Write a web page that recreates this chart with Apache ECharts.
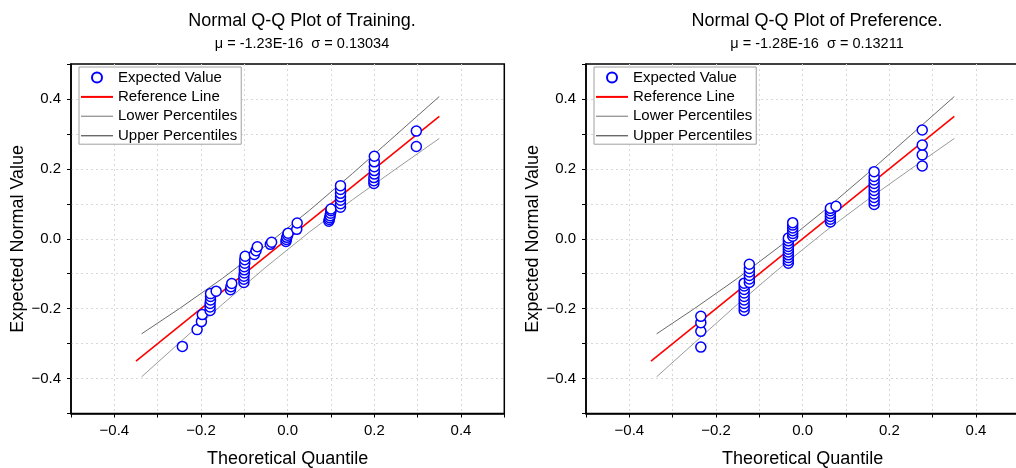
<!DOCTYPE html>
<html>
<head>
<meta charset="utf-8">
<script src="https://cdn.jsdelivr.net/npm/echarts@6/dist/echarts.min.js"></script>
<style>html,body{margin:0;padding:0;background:#fff}#c{width:1016px;height:468px}</style>
</head>
<body>
<div id="c"></div>
<script>
// ---- data ----
const titles = ['Normal Q-Q Plot of Training.', 'Normal Q-Q Plot of Preference.'];
const subtitles = ['\u03bc = -1.23E-16  \u03c3 = 0.13034', '\u03bc = -1.28E-16  \u03c3 = 0.13211'];
const seriesNames = ['Expected Value', 'Reference Line', 'Lower Percentiles', 'Upper Percentiles'];
const xAxisName = 'Theoretical Quantile';
const yAxisName = 'Expected Normal Value';
const tickValuesShown = [-0.4, -0.2, 0.0, 0.2, 0.4];

const trainX = [-0.243, -0.209, -0.199, -0.197,
  -0.179, -0.179, -0.179, -0.178, -0.178, -0.178,
  -0.165,
  -0.132, -0.131, -0.129,
  -0.101, -0.101, -0.101, -0.100, -0.100, -0.100, -0.099, -0.099, -0.098,
  -0.077, -0.073, -0.070,
  -0.040, -0.037,
  -0.004, -0.003, -0.002, 0.000, 0.001,
  0.021, 0.022,
  0.095, 0.096, 0.097, 0.098, 0.099, 0.100, 0.100,
  0.122, 0.122, 0.122, 0.122, 0.122, 0.122, 0.122,
  0.199, 0.199, 0.199, 0.200, 0.200, 0.200, 0.200, 0.200,
  0.297, 0.297];
const trainY = [-0.308, -0.260, -0.237, -0.217,
  -0.205, -0.195, -0.185, -0.175, -0.165, -0.157,
  -0.150,
  -0.146, -0.137, -0.128,
  -0.125, -0.116, -0.107, -0.098, -0.089, -0.080, -0.070, -0.060, -0.050,
  -0.045, -0.034, -0.023,
  -0.016, -0.010,
  -0.008, -0.002, 0.004, 0.010, 0.016,
  0.027, 0.045,
  0.050, 0.055, 0.060, 0.066, 0.073, 0.080, 0.085,
  0.090, 0.100, 0.110, 0.120, 0.130, 0.141, 0.152,
  0.158, 0.166, 0.175, 0.185, 0.195, 0.206, 0.220, 0.236,
  0.264, 0.308];

const prefX = [-0.235, -0.235, -0.235, -0.235,
  -0.135, -0.135, -0.135, -0.135, -0.135, -0.135, -0.135, -0.135, -0.135,
  -0.123, -0.123, -0.123, -0.123, -0.123, -0.123,
  -0.033, -0.033, -0.033, -0.033, -0.033, -0.033, -0.033, -0.033, -0.033, -0.033,
  -0.023, -0.023, -0.023, -0.023, -0.023, -0.023,
  0.064, 0.064, 0.064, 0.064, 0.064, 0.064,
  0.077,
  0.165, 0.165, 0.165, 0.165, 0.165, 0.165, 0.165, 0.165, 0.165, 0.165,
  0.276, 0.276, 0.276, 0.276];
const prefY = [-0.310, -0.265, -0.240, -0.222,
  -0.205, -0.195, -0.185, -0.175, -0.165, -0.155, -0.145, -0.135, -0.127,
  -0.125, -0.115, -0.105, -0.095, -0.085, -0.073,
  -0.070, -0.062, -0.054, -0.046, -0.038, -0.030, -0.022, -0.014, -0.006, 0.002,
  0.007, 0.015, 0.023, 0.031, 0.039, 0.046,
  0.048, 0.056, 0.064, 0.072, 0.080, 0.087,
  0.093,
  0.098, 0.108, 0.118, 0.128, 0.138, 0.148, 0.158, 0.168, 0.178, 0.192,
  0.208, 0.240, 0.268, 0.311];

const refLineX = [-0.35, 0.35];
const refLineY = [-0.35, 0.35];
const bandX = [-0.337, -0.25, -0.15, -0.05, 0.05, 0.15, 0.25, 0.35];
const upperY = [-0.272, -0.200, -0.113, -0.019, 0.081, 0.187, 0.297, 0.407];
const lowerY = [-0.395, -0.298, -0.187, -0.081, 0.019, 0.112, 0.200, 0.287];
// --------------------------------------

const FONT = "'Liberation Sans', Arial, sans-serif";
const pairs = (xs, ys) => xs.map((x, i) => [x, ys[i]]);
const fmt = v => {
  const k = Math.round(v * 10);
  const shown = tickValuesShown.some(t => Math.round(t * 10) === k);
  if (!shown) return '';
  const s = Math.abs(k / 10).toFixed(1);
  return (k < 0 ? '\u2212' : '') + s;
};
// thin horizontal stroke icons for line entries (bounding box kept to full item box)
const LINE_ICON = 'path://M0,0L0,0M0,10L0,10M0,4.3L32,4.3L32,5.7L0,5.7Z';
const RED_ICON = 'path://M0,0L0,0M0,10L0,10M0,4L32,4L32,6L0,6Z';

const gridLefts = [71, 586];
const titleCenters = [297, 812];
const plots = [[trainX, trainY], [prefX, prefY]];

const option = {
  backgroundColor: '#fff',
  animation: false,
  textStyle: { fontFamily: FONT },
  title: titles.map((t, i) => ({
    text: t, subtext: subtitles[i],
    left: titleCenters[i], top: 7, textAlign: 'center', itemGap: 6,
    textStyle: { fontFamily: FONT, fontSize: 18, fontWeight: 'normal', color: '#000' },
    subtextStyle: { fontFamily: FONT, fontSize: 14.5, color: '#000' }
  })),
  legend: gridLefts.map((gl, i) => ({
    orient: 'vertical',
    left: gl + 8, top: 67,
    data: [
      { name: seriesNames[0], icon: 'circle' },
      { name: seriesNames[1], icon: RED_ICON },
      { name: seriesNames[2], icon: LINE_ICON },
      { name: seriesNames[3], icon: LINE_ICON }
    ],
    itemWidth: 32, itemHeight: 10, itemGap: 4.4,
    padding: [3, 4, 1, 2],
    backgroundColor: '#fff',
    borderColor: '#a0a0a0', borderWidth: 1, borderRadius: 0,
    textStyle: { fontFamily: FONT, fontSize: 15, lineHeight: 14, color: '#000' },
    selectedMode: false
  })),
  grid: gridLefts.map(gl => ({
    left: gl, top: 64, width: 433.3, height: 349.5,
    show: true, borderColor: '#000', borderWidth: 1.5,
    outerBoundsMode: 'none', containLabel: false
  })),
  xAxis: gridLefts.map((gl, i) => ({
    gridIndex: i, type: 'value', min: -0.5, max: 0.5, interval: 0.1,
    name: xAxisName, nameLocation: 'middle', nameGap: 37,
    nameTextStyle: { fontFamily: FONT, fontSize: 18, color: '#000' },
    axisLine: { show: true, onZero: false, lineStyle: { color: '#000', width: 1.5 } },
    axisTick: { show: true, inside: false, length: 4, lineStyle: { color: '#000', width: 1 } },
    axisLabel: { formatter: fmt, margin: 10, fontFamily: FONT, fontSize: 15, color: '#000' },
    splitLine: { show: true, showMinLine: false, showMaxLine: false,
      lineStyle: { color: '#d8d8d8', type: [2, 3], width: 1 } }
  })),
  yAxis: gridLefts.map((gl, i) => ({
    gridIndex: i, type: 'value', min: -0.5, max: 0.5, interval: 0.1,
    name: yAxisName, nameLocation: 'middle', nameGap: 36,
    nameTextStyle: { fontFamily: FONT, fontSize: 18, color: '#000' },
    axisLine: { show: true, onZero: false, lineStyle: { color: '#000', width: 1.5 } },
    axisTick: { show: true, inside: false, length: 4, lineStyle: { color: '#000', width: 1 } },
    axisLabel: { formatter: fmt, margin: 10, fontFamily: FONT, fontSize: 15, color: '#000' },
    splitLine: { show: true, showMinLine: false, showMaxLine: false,
      lineStyle: { color: '#d8d8d8', type: [2, 3], width: 1 } }
  })),
  series: []
};

plots.forEach((p, i) => {
  option.series.push({
    name: seriesNames[2], type: 'line', xAxisIndex: i, yAxisIndex: i,
    data: pairs(bandX, lowerY), symbol: 'none', showSymbol: false, z: 2,
    lineStyle: { color: '#9a9a9a', width: 1 }, itemStyle: { color: '#9a9a9a' }
  });
  option.series.push({
    name: seriesNames[3], type: 'line', xAxisIndex: i, yAxisIndex: i,
    data: pairs(bandX, upperY), symbol: 'none', showSymbol: false, z: 2,
    lineStyle: { color: '#6a6a6a', width: 1 }, itemStyle: { color: '#6a6a6a' }
  });
  option.series.push({
    name: seriesNames[1], type: 'line', xAxisIndex: i, yAxisIndex: i,
    data: pairs(refLineX, refLineY), symbol: 'none', showSymbol: false, z: 3,
    lineStyle: { color: '#ff0000', width: 1.6 }, itemStyle: { color: '#ff0000' }
  });
  option.series.push({
    name: seriesNames[0], type: 'scatter', xAxisIndex: i, yAxisIndex: i,
    data: pairs(p[0], p[1]), symbol: 'circle', symbolSize: 10, z: 4,
    itemStyle: { color: '#fff', borderColor: '#0000ff', borderWidth: 1.5, opacity: 1 }
  });
});

const chart = echarts.init(document.getElementById('c'), null, { renderer: 'canvas' });
chart.setOption(option);
</script>
</body>
</html>
